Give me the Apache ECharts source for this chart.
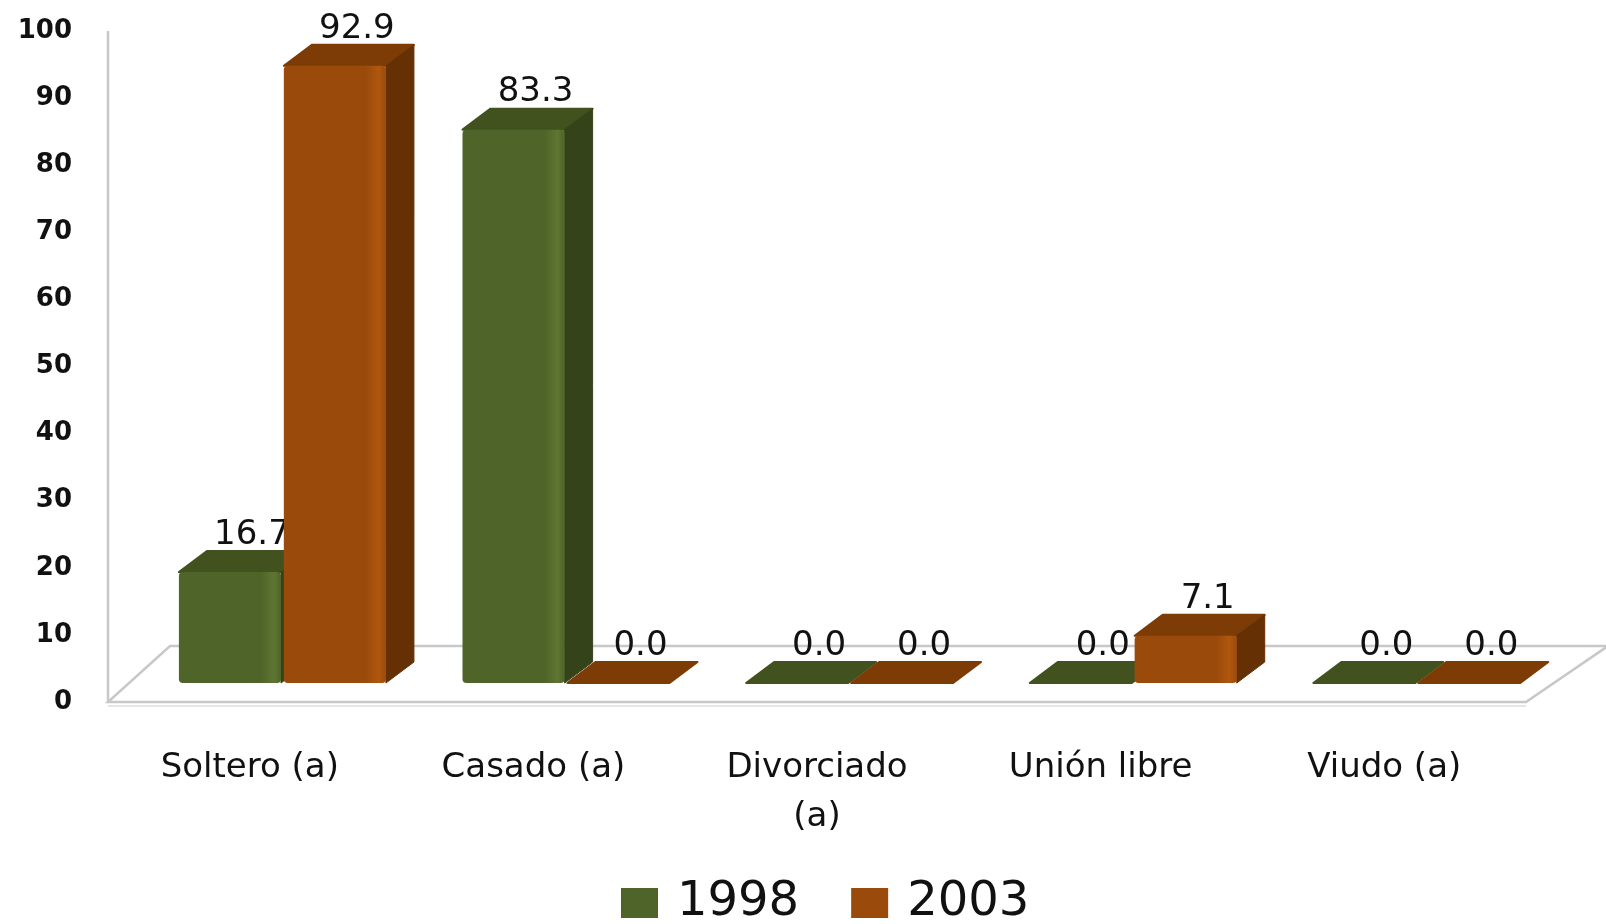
<!DOCTYPE html>
<html>
<head>
<meta charset="utf-8">
<script src="https://cdn.jsdelivr.net/npm/echarts@6/dist/echarts.min.js"></script>
<style>
  html, body { margin: 0; padding: 0; background: #fff; }
  #chart { width: 1606px; height: 924px; }
</style>
</head>
<body>
<div id="chart"></div>
<script>
// datos
var categories = ['Soltero (a)', 'Casado (a)', 'Divorciado\n(a)', 'Unión libre', 'Viudo (a)']
var values1998 = [16.7, 83.3, 0.0, 0.0, 0.0]
var values2003 = [92.9, 0.0, 0.0, 7.1, 0.0]
var seriesNames = ['1998', '2003']
var yMin = 0
var yMax = 100
var yStep = 10

// colores: frente, techo, lado
var palette = [
  { front: '#4f6428', top: '#42521f', side: '#35431a', light: '#5e7632' },
  { front: '#9a4a0a', top: '#7d3c06', side: '#643004', light: '#b0570f' }
]

// profundidad del piso y de las columnas
var floorDepth = { left: 62, right: 82, dy: -56 }
var barShift = { dy: -19 }
var barDepth = { dx: 28, dy: -21 }

var chart = echarts.init(document.getElementById('chart'))

function floorRender(params, api) {
  var cs = params.coordSys
  var x0 = cs.x
  var x1 = cs.x + cs.width
  var yb = cs.y + cs.height
  return {
    type: 'group',
    children: [
      { type: 'polygon', shape: { points: [[x0, yb], [x1, yb], [x1 + floorDepth.right, yb + floorDepth.dy], [x0 + floorDepth.left, yb + floorDepth.dy]] },
        style: { fill: '#fff', stroke: '#c8c8c8', lineWidth: 2.5 } },
      { type: 'line', shape: { x1: x0, y1: yb + 4, x2: x1, y2: yb + 4 }, style: { stroke: '#dcdcdc', lineWidth: 1.5 } },
      { type: 'line', shape: { x1: x0, y1: cs.y, x2: x0, y2: yb }, style: { stroke: '#c8c8c8', lineWidth: 2.5 } }
    ]
  }
}

function makeBarRender(k) {
  return function(params, api) {
    var idx = api.value(0)
    var val = api.value(1)
    var base = api.coord([idx, 0])
    var top = api.coord([idx, val])
    var catW = api.size([1, 0])[0]
    var w = catW * 0.36
    var left = base[0] + (k === 0 ? -0.25 : 0.12) * catW
    var y0 = base[1] + barShift.dy
    var y1 = y0 - (base[1] - top[1]) * 0.99
    var c = palette[k]
    var dx = barDepth.dx
    var dy = barDepth.dy
    var kids = []
    // techo
    kids.push({ type: 'polygon', shape: { points: [[left, y1], [left + w, y1], [left + w + dx, y1 + dy], [left + dx, y1 + dy]] },
      style: { fill: c.top, stroke: c.top, lineWidth: 2, lineJoin: 'round' } })
    if (y0 - y1 > 0.5) {
      // lado
      kids.push({ type: 'polygon', shape: { points: [[left + w, y1], [left + w + dx, y1 + dy], [left + w + dx, y0 + dy], [left + w, y0]] },
        style: { fill: c.side, stroke: c.side, lineWidth: 1, lineJoin: 'round' } })
      // frente
      kids.push({ type: 'rect', shape: { x: left, y: y1, width: w, height: y0 - y1, r: 4 },
        style: { fill: new echarts.graphic.LinearGradient(0, 0, 1, 0, [
          { offset: 0, color: c.front }, { offset: 0.8, color: c.front }, { offset: 0.93, color: c.light }, { offset: 1, color: c.front }
        ]) } })
    }
    // etiqueta
    kids.push({ type: 'text', x: left + w / 2 + 22, y: y1 + dy + 1,
      style: { text: val.toFixed(1), fill: '#111', font: '34px "DejaVu Sans"', align: 'center', verticalAlign: 'bottom' } })
    return { type: 'group', children: kids }
  }
}

function toData(arr) {
  return arr.map(function(v, i) { return [i, v] })
}

var option = {
  animation: false,
  backgroundColor: '#fff',
  grid: { left: 108, right: 80, top: 31, bottom: 222 },
  legend: {
    top: 874,
    left: 616,
    icon: 'rect',
    itemWidth: 37,
    itemHeight: 30,
    itemGap: 52,
    data: [
      { name: seriesNames[0], itemStyle: { color: palette[0].front } },
      { name: seriesNames[1], itemStyle: { color: palette[1].front } }
    ],
    textStyle: { fontSize: 48, fontFamily: 'DejaVu Sans', color: '#111', padding: [0, 0, 0, 14] }
  },
  xAxis: {
    type: 'category',
    data: categories,
    axisLine: { show: false },
    axisTick: { show: false },
    axisLabel: { margin: 42, fontSize: 34, lineHeight: 49, fontFamily: 'DejaVu Sans', color: '#111' }
  },
  yAxis: {
    type: 'value',
    min: yMin,
    max: yMax,
    interval: yStep,
    splitLine: { show: false },
    axisLine: { show: false },
    axisTick: { show: false },
    axisLabel: { margin: 36, fontSize: 26, fontWeight: 'bold', fontFamily: 'DejaVu Sans', color: '#111' }
  },
  series: [
    { type: 'custom', name: 'floor', renderItem: floorRender, data: [[0, 0]], silent: true, z: 1 },
    { type: 'custom', name: seriesNames[0], renderItem: makeBarRender(0), data: toData(values1998), itemStyle: { color: palette[0].front }, z: 2 },
    { type: 'custom', name: seriesNames[1], renderItem: makeBarRender(1), data: toData(values2003), itemStyle: { color: palette[1].front }, z: 3 }
  ]
}

chart.setOption(option)
</script>
</body>
</html>
